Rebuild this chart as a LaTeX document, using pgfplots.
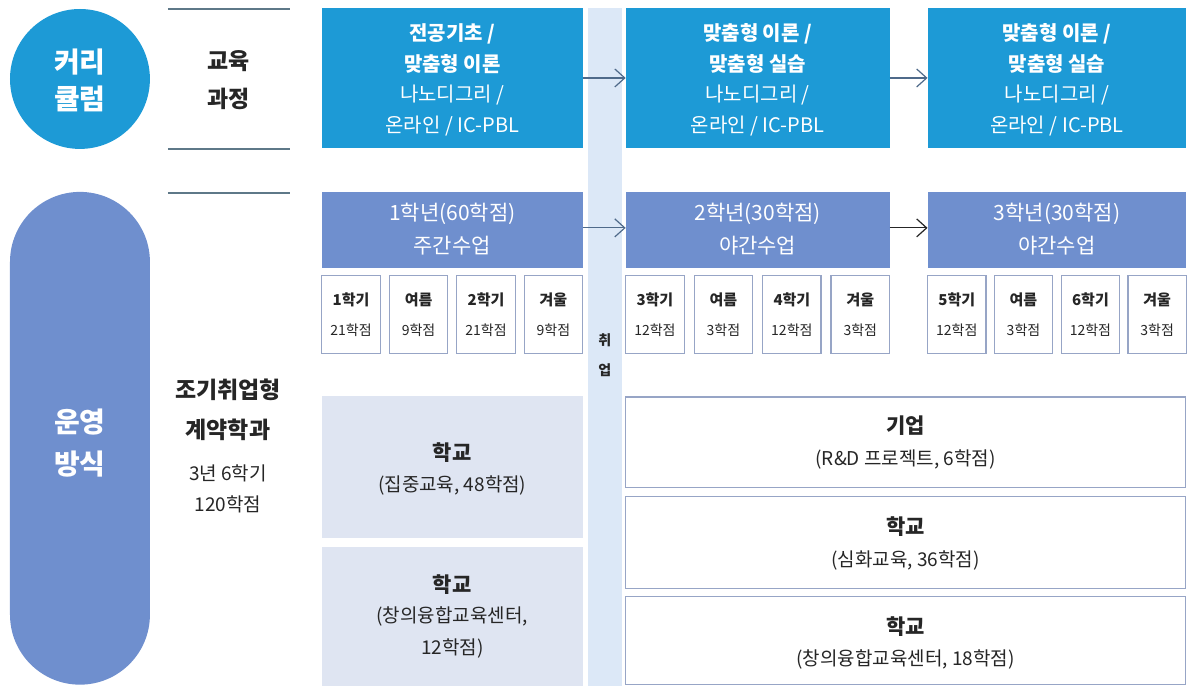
\documentclass[border=0pt]{standalone}
\usepackage{fontspec}
\setmainfont{Noto Sans CJK KR}
\usepackage{pgfplots}
\pgfplotsset{compat=1.18}
\usetikzlibrary{arrows.meta}

\definecolor{topblue}{HTML}{1D9AD6}
\definecolor{opblue}{HTML}{6F8FCE}
\definecolor{strip}{HTML}{DCE8F7}
\definecolor{school}{HTML}{DFE5F2}
\definecolor{frame}{HTML}{97A5C6}
\definecolor{rulec}{HTML}{5E7888}
\definecolor{arrowc}{HTML}{4F6A8A}
\definecolor{ink}{HTML}{262626}

\newcommand{\fs}[1]{\fontsize{#1}{#1}\selectfont}

\begin{document}
\begin{tikzpicture}
\begin{axis}[
    width=593.5pt, height=343pt, scale only axis,
    xmin=0, xmax=1187, ymin=0, ymax=686, y dir=reverse,
    hide axis, clip=false,
]
\path (0,0) rectangle (1187,686);

% left column: circle, pill, rules
\fill[topblue, rounded corners=35pt] (10,9) rectangle (150,149);
\fill[opblue, rounded corners=35pt] (10,192) rectangle (150,685);
\draw[rulec, line width=1pt] (168,9) -- (290,9);
\draw[rulec, line width=1pt] (168,149) -- (290,149);
\draw[rulec, line width=1pt] (168,193) -- (290,193);

\node[white, font=\fs{14}\bfseries] at (80,62) {커리};
\node[white, font=\fs{14}\bfseries] at (80,99) {큘럼};
\node[white, font=\fs{14}\bfseries] at (80,422) {운영};
\node[white, font=\fs{14}\bfseries] at (80,464) {방식};

\node[ink, font=\fs{11.5}\bfseries] at (229,61) {교육};
\node[ink, font=\fs{11.5}\bfseries] at (229,99) {과정};
\node[ink, font=\fs{11.5}\bfseries] at (228,390) {조기취업형};
\node[ink, font=\fs{11.5}\bfseries] at (228,430) {계약학과};
\node[ink, font=\fs{9.5}] at (228,474) {3년 6학기};
\node[ink, font=\fs{9.5}] at (228,505) {120학점};

% central strip
\fill[strip] (588,8) rectangle (622,686);
\node[ink, font=\fs{7}\bfseries] at (605,340) {취};
\node[ink, font=\fs{7}\bfseries] at (605,370) {업};

% curriculum boxes
\fill[topblue] (322,8) rectangle (583,148);
\fill[topblue] (626,8) rectangle (890,148);
\fill[topblue] (928,8) rectangle (1187,148);

\node[white, font=\fs{10}\bfseries] at (452.5,34) {전공기초 /};
\node[white, font=\fs{10}\bfseries] at (452.5,64) {맞춤형 이론};
\node[white, font=\fs{10}] at (452.5,95) {나노디그리 /};
\node[white, font=\fs{10}] at (452.5,126) {온라인 / IC-PBL};

\node[white, font=\fs{10}\bfseries] at (758,34) {맞춤형 이론 /};
\node[white, font=\fs{10}\bfseries] at (758,64) {맞춤형 실습};
\node[white, font=\fs{10}] at (758,95) {나노디그리 /};
\node[white, font=\fs{10}] at (758,126) {온라인 / IC-PBL};

\node[white, font=\fs{10}\bfseries] at (1057.5,34) {맞춤형 이론 /};
\node[white, font=\fs{10}\bfseries] at (1057.5,64) {맞춤형 실습};
\node[white, font=\fs{10}] at (1057.5,95) {나노디그리 /};
\node[white, font=\fs{10}] at (1057.5,126) {온라인 / IC-PBL};

\draw[arrowc, line width=0.6pt, -{Straight Barb[length=5pt, width=9pt]}] (583,78) -- (626,78);
\draw[arrowc, line width=0.6pt, -{Straight Barb[length=5pt, width=9pt]}] (890,78) -- (928,78);

% year boxes
\fill[opblue] (322,192) rectangle (583,268);
\fill[opblue] (626,192) rectangle (890,268);
\fill[opblue] (928,192) rectangle (1187,268);

\node[white, font=\fs{10.5}] at (452.5,214) {1학년(60학점)};
\node[white, font=\fs{10.5}] at (452.5,246) {주간수업};
\node[white, font=\fs{10.5}] at (758,214) {2학년(30학점)};
\node[white, font=\fs{10.5}] at (758,246) {야간수업};
\node[white, font=\fs{10.5}] at (1057.5,214) {3학년(30학점)};
\node[white, font=\fs{10.5}] at (1057.5,246) {야간수업};

\draw[arrowc, line width=0.6pt, -{Straight Barb[length=5pt, width=9pt]}] (583,228) -- (626,228);
\draw[ink, line width=0.6pt, -{Straight Barb[length=5pt, width=9pt]}] (890,228) -- (928,228);

% semester boxes
\tikzset{sem/.style={draw=frame, fill=white, line width=0.6pt}}
\draw[sem] (322,276) rectangle (380.5,354);
\draw[sem] (389.5,276) rectangle (448,354);
\draw[sem] (457,276) rectangle (515.5,354);
\draw[sem] (524.5,276) rectangle (583,354);
\draw[sem] (626,276) rectangle (684.5,354);
\draw[sem] (694.5,276) rectangle (753,354);
\draw[sem] (763,276) rectangle (821.5,354);
\draw[sem] (831.5,276) rectangle (890,354);
\draw[sem] (928,276) rectangle (986.5,354);
\draw[sem] (994.8,276) rectangle (1053.3,354);
\draw[sem] (1061.7,276) rectangle (1120.2,354);
\draw[sem] (1128.5,276) rectangle (1187,354);

\tikzset{semA/.style={ink, font=\fs{7.5}\bfseries}, semB/.style={ink, font=\fs{7}}}
\node[semA] at (351.25,300) {1학기};   \node[semB] at (351.25,330) {21학점};
\node[semA] at (418.75,300) {여름};    \node[semB] at (418.75,330) {9학점};
\node[semA] at (486.25,300) {2학기};   \node[semB] at (486.25,330) {21학점};
\node[semA] at (553.75,300) {겨울};    \node[semB] at (553.75,330) {9학점};
\node[semA] at (655.25,300) {3학기};   \node[semB] at (655.25,330) {12학점};
\node[semA] at (723.75,300) {여름};    \node[semB] at (723.75,330) {3학점};
\node[semA] at (792.25,300) {4학기};   \node[semB] at (792.25,330) {12학점};
\node[semA] at (860.75,300) {겨울};    \node[semB] at (860.75,330) {3학점};
\node[semA] at (957.25,300) {5학기};   \node[semB] at (957.25,330) {12학점};
\node[semA] at (1024,300) {여름};      \node[semB] at (1024,330) {3학점};
\node[semA] at (1091,300) {6학기};     \node[semB] at (1091,330) {12학점};
\node[semA] at (1157.75,300) {겨울};   \node[semB] at (1157.75,330) {3학점};

% operation boxes, year 1
\fill[school] (322,396) rectangle (583,538);
\fill[school] (322,547) rectangle (583,686);
\node[ink, font=\fs{10.5}\bfseries] at (452.5,453) {학교};
\node[ink, font=\fs{9.5}] at (452.5,486) {(집중교육, 48학점)};
\node[ink, font=\fs{10.5}\bfseries] at (452.5,585) {학교};
\node[ink, font=\fs{9.5}] at (452.5,617) {(창의융합교육센터,};
\node[ink, font=\fs{9.5}] at (452.5,649) {12학점)};

% operation boxes, years 2-3
\tikzset{op/.style={draw=frame, fill=white, line width=0.7pt}}
\draw[op] (626,397) rectangle (1186,488);
\draw[op] (626,497) rectangle (1186,589);
\draw[op] (626,597) rectangle (1186,685);
\node[ink, font=\fs{10.5}\bfseries] at (906,426) {기업};
\node[ink, font=\fs{9.5}] at (906,460) {(R\&D 프로젝트, 6학점)};
\node[ink, font=\fs{10.5}\bfseries] at (906,527) {학교};
\node[ink, font=\fs{9.5}] at (906,561) {(심화교육, 36학점)};
\node[ink, font=\fs{10.5}\bfseries] at (906,627) {학교};
\node[ink, font=\fs{9.5}] at (906,660) {(창의융합교육센터, 18학점)};
\end{axis}
\end{tikzpicture}
\end{document}
